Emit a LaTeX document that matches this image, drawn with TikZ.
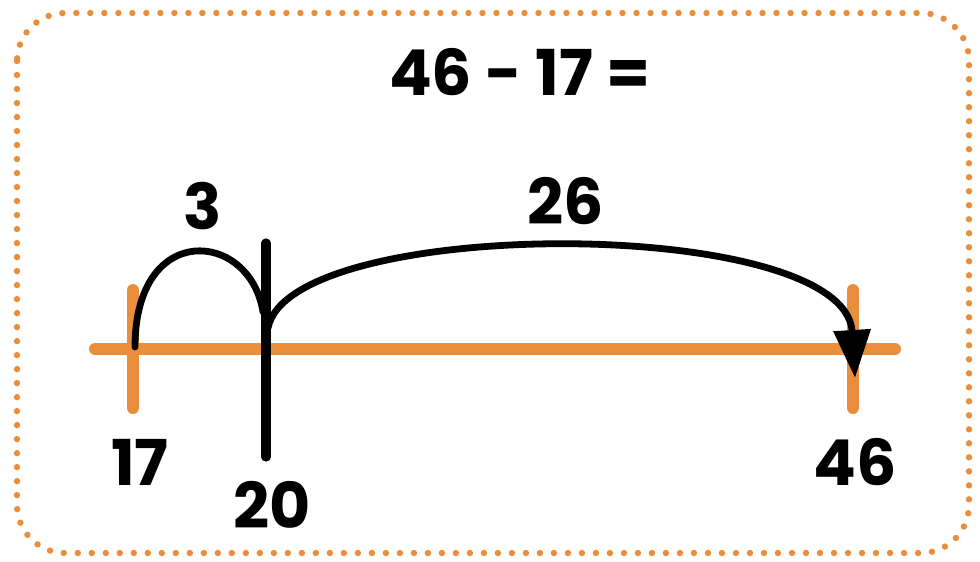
\documentclass[tikz,border=0pt]{standalone}
\usepackage{fontspec}
\setmainfont{Poppins}
\usetikzlibrary{arrows.meta,positioning}
\definecolor{oc}{RGB}{234,142,60}
\tikzset{numline/.style={draw=oc,line width=0.3cm,line cap=round},
 tickmark/.style={numline},
 jumptick/.style={draw=black,line width=0.23cm,line cap=round},
 hop/.style={draw=black,line width=0.17cm,line cap=round},
 lbl/.style={font=\bfseries\fontsize{45}{45}\selectfont,inner sep=0pt},
 frame/.style={draw=oc,line width=0.16cm,line cap=round,dash pattern=on 0pt off 0.35cm,rounded corners=1.2cm}}

\begin{document}
\begin{tikzpicture}[x=0.025cm,y=-0.025cm]
\useasboundingbox (0,0) rectangle (980,561);
\draw[frame] (17,13) rectangle (969,553);
\node[lbl] (sum) at (520,72) {46 - 17 =};
% number line
\coordinate (lft) at (95,349);
\coordinate (rgt) at (895,349);
\draw[numline] (lft) -- (rgt);
\coordinate (p17) at (133,349);
\coordinate (p46) at (853,349);
\draw[tickmark] (133,290) -- (133,408);
\draw[tickmark] (853,290) -- (853,408);
\draw[jumptick] (266,243) -- (266,457);
% jumps
\coordinate (s3) at (135,347);
\coordinate (e3) at (263,312);
\coordinate (s26) at (268,328);
\coordinate (e26) at (855,378);
\draw[hop] (s3) .. controls (135,220) and (250,230) .. (e3);
\draw[hop,-{Triangle[length=1.2cm,width=0.9cm]}] (s26) .. controls (290,215) and (845,215) .. (e26);
\node[lbl] (n3) at (203,206) {3};
\node[lbl] (n26) at (566,201) {26};
\node[lbl] (n17) at (140,462) {17};
\node[lbl] (n20) at (272,505) {20};
\node[lbl] (n46) at (855,462) {46};
\end{tikzpicture}
\end{document}
